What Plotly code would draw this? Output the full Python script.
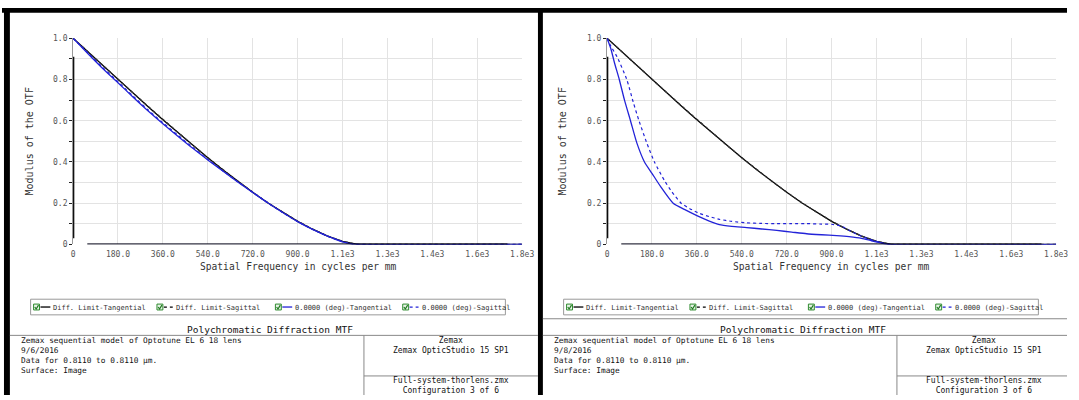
import plotly.graph_objects as go

# ---------------- data ----------------
x_ticks = [0, 180, 360, 540, 720, 900, 1080, 1260, 1440, 1620, 1800]
x_ticktext = ["0", "180.0", "360.0", "540.0", "720.0", "900.0",
              "1.1e3", "1.3e3", "1.4e3", "1.6e3", "1.8e3"]
y_ticks = [0, 0.1, 0.2, 0.3, 0.4, 0.5, 0.6, 0.7, 0.8, 0.9, 1.0]
y_ticktext = ["0", "", "0.2", "", "0.4", "", "0.6", "", "0.8", "", "1.0"]

# diffraction limit (same for both configurations)
freq_dl = [0, 60, 120, 180, 240, 300, 360, 420, 480, 540, 600, 660, 720,
           780, 840, 900, 960, 1020, 1080, 1140, 1800]
dl_tan = [1.0, 0.933, 0.866, 0.800, 0.734, 0.669, 0.605, 0.542, 0.480,
          0.420, 0.362, 0.306, 0.253, 0.202, 0.156, 0.112, 0.074, 0.040,
          0.0145, 0.0, 0.0]
dl_sag = [1.0, 0.933, 0.866, 0.801, 0.735, 0.670, 0.606, 0.543, 0.481,
          0.421, 0.363, 0.307, 0.254, 0.203, 0.157, 0.113, 0.075, 0.041,
          0.015, 0.0, 0.0]

# left panel field (0.0000 deg)
freq_a = [0, 60, 120, 180, 240, 300, 360, 420, 480, 540, 600, 660, 720,
          780, 840, 900, 960, 1020, 1080, 1120, 1140, 1800]
a_tan = [1.0, 0.925, 0.852, 0.784, 0.715, 0.648, 0.585, 0.525, 0.466,
         0.410, 0.356, 0.303, 0.252, 0.202, 0.155, 0.111, 0.073, 0.040,
         0.013, 0.002, 0.0, 0.0]
a_sag = [1.0, 0.928, 0.857, 0.789, 0.720, 0.653, 0.590, 0.530, 0.470,
         0.413, 0.357, 0.304, 0.253, 0.202, 0.155, 0.111, 0.073, 0.040,
         0.013, 0.002, 0.0, 0.0]

# right panel field (0.0000 deg)
freq_b_tan = [0, 15, 30, 49, 70, 94, 120, 150, 180, 215, 265, 310, 360, 410,
              450, 500, 560, 620, 680, 740, 800, 860, 920, 970, 1020, 1060,
              1100, 1130, 1800]
b_tan = [1.0, 0.95, 0.88, 0.80, 0.70, 0.60, 0.49, 0.40, 0.345, 0.28, 0.20,
         0.17, 0.14, 0.113, 0.096, 0.088, 0.082, 0.075, 0.068, 0.060, 0.052,
         0.047, 0.043, 0.038, 0.030, 0.018, 0.007, 0.0, 0.0]
freq_b_sag = [0, 16, 40, 79, 105, 128, 160, 190, 230, 260, 297, 330, 365,
              410, 450, 500, 560, 620, 680, 740, 800, 860, 900, 940, 980,
              1020, 1060, 1100, 1130, 1800]
b_sag = [1.0, 0.96, 0.91, 0.80, 0.69, 0.60, 0.49, 0.40, 0.31, 0.255, 0.20,
         0.175, 0.153, 0.135, 0.122, 0.112, 0.105, 0.102, 0.101, 0.101,
         0.101, 0.099, 0.098, 0.088, 0.062, 0.040, 0.022, 0.008, 0.0, 0.0]

legend_labels = ["Diff. Limit-Tangential", "Diff. Limit-Sagittal",
                 "0.0000 (deg)-Tangential", "0.0000 (deg)-Sagittal"]
title_text = "Polychromatic Diffraction MTF"
info_left = ["Zemax sequential model of Optotune EL 6 18 lens", "9/6/2016",
             "Data for 0.8110 to 0.8110 \u00b5m.", "Surface: Image"]
info_right = ["Zemax sequential model of Optotune EL 6 18 lens", "9/8/2016",
              "Data for 0.8110 to 0.8110 \u00b5m.", "Surface: Image"]
vendor = ["Zemax", "Zemax OpticStudio 15 SP1"]
file_info = ["Full-system-thorlens.zmx", "Configuration 3 of 6"]

# ---------------- layout helpers ----------------
W, H = 1079, 400
MONO = "DejaVu Sans Mono"
BLUE = "#2323d8"


def px(x):
    return x / W


def py(y):
    return 1 - y / H


fig = go.Figure()

panels = [
    dict(off=0, xa="x", ya="y", blue_tan=(freq_a, a_tan), blue_sag=(freq_a, a_sag), info=info_left),
    dict(off=540, xa="x2", ya="y2", blue_tan=(freq_b_tan, b_tan), blue_sag=(freq_b_sag, b_sag), info=info_right),
]

for p in panels:
    fig.add_trace(go.Scatter(x=freq_dl, y=dl_tan, mode="lines", xaxis=p["xa"], yaxis=p["ya"],
                             line=dict(color="black", width=1.3), showlegend=False))
    fig.add_trace(go.Scatter(x=freq_dl, y=dl_sag, mode="lines", xaxis=p["xa"], yaxis=p["ya"],
                             line=dict(color="#333333", width=1.3, dash="dot"), showlegend=False))
    fx, fy = p["blue_tan"]
    fig.add_trace(go.Scatter(x=fx, y=fy, mode="lines", xaxis=p["xa"], yaxis=p["ya"],
                             line=dict(color=BLUE, width=1.3, shape="spline", smoothing=0.6),
                             showlegend=False))
    fx, fy = p["blue_sag"]
    fig.add_trace(go.Scatter(x=fx, y=fy, mode="lines", xaxis=p["xa"], yaxis=p["ya"],
                             line=dict(color=BLUE, width=1.2, dash="dot", shape="spline", smoothing=0.6),
                             showlegend=False))

axis_common = dict(range=[0, 1800], tickvals=x_ticks, ticktext=x_ticktext,
                   showgrid=True, gridcolor="#e3e3e3", gridwidth=1, zeroline=False,
                   showline=False, ticks="", ticklabelstandoff=4,
                   tickfont=dict(family=MONO, size=8, color="#555"), fixedrange=True)
yaxis_common = dict(range=[0, 1.0], tickvals=y_ticks, ticktext=y_ticktext,
                    showgrid=True, gridcolor="#e3e3e3", gridwidth=1, zeroline=False,
                    showline=True, linecolor="#999", linewidth=1,
                    ticks="outside", ticklen=3, tickcolor="#222", tickwidth=1,
                    tickfont=dict(family=MONO, size=8, color="#555"), fixedrange=True)

fig.update_layout(
    width=W, height=H, margin=dict(l=0, r=0, t=0, b=0),
    paper_bgcolor="white", plot_bgcolor="white", showlegend=False,
    xaxis=dict(domain=[px(72), px(527)], anchor="y", **axis_common),
    yaxis=dict(domain=[py(246), py(35)], anchor="x", **yaxis_common),
    xaxis2=dict(domain=[px(613), px(1068)], anchor="y2", **axis_common),
    yaxis2=dict(domain=[py(246), py(35)], anchor="x2", **yaxis_common),
)

shapes = []
annotations = []


def line(x0, y0, x1, y1, color="#888", width=1, dash=None, xref="paper", yref="paper", layer="above"):
    if xref == "paper":
        x0, x1 = px(x0), px(x1)
    if yref == "paper":
        y0, y1 = py(y0), py(y1)
    ln = dict(color=color, width=width)
    if dash:
        ln["dash"] = dash
    shapes.append(dict(type="line", x0=x0, y0=y0, x1=x1, y1=y1, xref=xref, yref=yref,
                       line=ln, layer=layer))


def rect(x0, y0, x1, y1, color="#888", width=1, fill="rgba(0,0,0,0)"):
    shapes.append(dict(type="rect", x0=px(x0), y0=py(y0), x1=px(x1), y1=py(y1),
                       xref="paper", yref="paper", line=dict(color=color, width=width),
                       fillcolor=fill, layer="above"))


def text(x, y, s, size=8, color="#111", xanchor="left", angle=0, yanchor="middle"):
    annotations.append(dict(x=px(x), y=py(y), xref="paper", yref="paper", text=s,
                            showarrow=False, xanchor=xanchor, yanchor=yanchor, textangle=angle,
                            align="left" if xanchor == "left" else "center",
                            font=dict(family=MONO, size=size, color=color)))


# window frames
rect(0, 4, W, 9, color="black", width=0, fill="black")
rect(2, 4, 8, H, color="black", width=0, fill="black")
rect(543, 4, 548, H, color="black", width=0, fill="black")

for p in panels:
    o = p["off"]
    xa, ya = p["xa"], p["ya"]
    # heavy axis strokes
    line(0, 0.03, 0, 0.91, color="black", width=2.5, xref=xa, yref=ya)
    line(57, 0, 1741, 0, color="rgba(0,0,20,0.8)", width=2.5, xref=xa, yref=ya)

    # axis titles
    text(o + 300, 269, "Spatial Frequency in cycles per mm", size=9.6, color="#333", xanchor="center")
    text(o + 28, 141, "Modulus of the OTF", size=10, color="#333", xanchor="center", angle=-90)

    # legend box
    rect(o + 29, 302, o + 510, 318, color="#999")
    item_x = [32, 157, 277, 406]
    colors = ["black", "black", BLUE, BLUE]
    dashed = [False, True, False, True]
    for ix, lab, col, dsh in zip(item_x, legend_labels, colors, dashed):
        bx = o + ix
        rect(bx, 307, bx + 6, 313, color="#2e8b2e", width=1, fill="#e8f3e8")
        shapes.append(dict(type="path", xref="paper", yref="paper",
                           path=f"M {px(bx + 1.2)} {py(310)} L {px(bx + 2.6)} {py(312)} L {px(bx + 5)} {py(308)}",
                           line=dict(color="#1f7a1f", width=1.2), layer="above"))
        seg_end = bx + 17 if not dsh else bx + 16
        line(bx + 7, 310, seg_end, 310, color=col, width=1.3, dash="dot" if dsh else None)
        text(seg_end + 1, 310.5, lab, size=7, color="#333")

    # chart title and separators
    if o > 0:
        line(o + 8, 322, W, 322)
    text(o + 272, 333, title_text, size=9.5, color="#111", xanchor="center")
    right_end = 543 if o == 0 else W
    line(o + 8, 339, right_end, 339)
    line(o + 366.7, 339, o + 366.7, H)
    line(o + 366.7, 380.5, right_end, 380.5)

    # info block
    text(o + 17, 337.5, "<br>".join(p["info"]), size=7.8, color="#111", yanchor="top")
    cx = o + 454.5
    text(cx, 338, "<br>".join(vendor), size=8, color="#111", xanchor="center", yanchor="top")
    text(cx, 379, "<br>".join(file_info), size=8, color="#111", xanchor="center", yanchor="top")

fig.update_layout(shapes=shapes, annotations=annotations)
fig.write_html("out.html")
